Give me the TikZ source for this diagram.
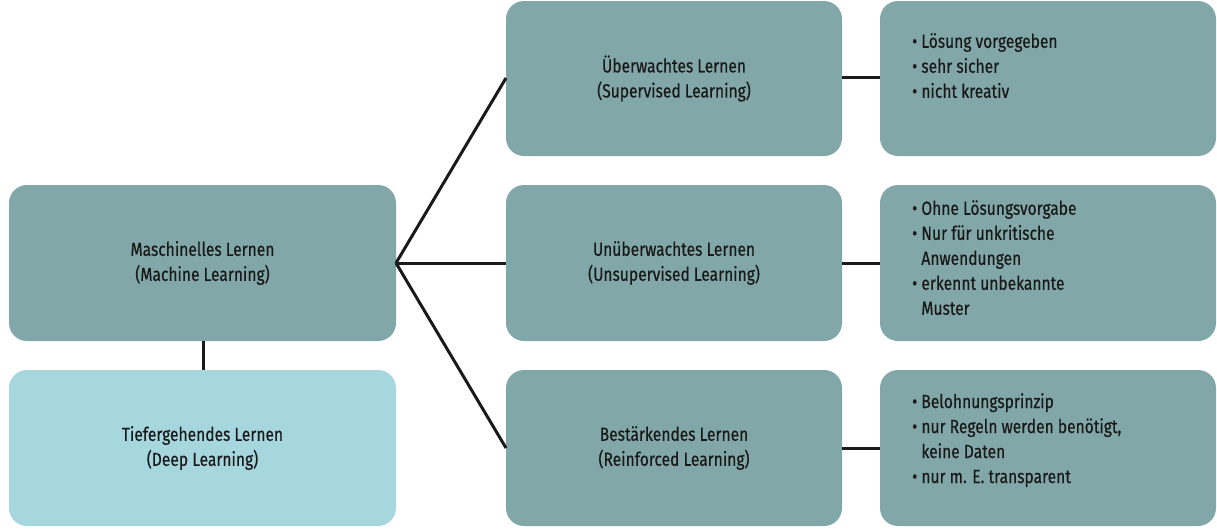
\documentclass[tikz,border=0pt]{standalone}
\usepackage{fontspec}
\setmainfont[FakeStretch=0.82]{Fira Sans}
\definecolor{boxc}{HTML}{82A7A8}
\definecolor{deepc}{HTML}{A6D7DF}
\definecolor{linec}{HTML}{1A1A1A}
\begin{document}
\begin{tikzpicture}[x=1pt,y=-1pt,
  bx/.style={fill=boxc,rounded corners=18pt,inner sep=0pt,font=\fontsize{19}{25}\selectfont\addfontfeature{FakeBold=0.4},text=black!90},
  ln/.style={draw=linec,line width=3pt}]
\useasboundingbox (0,0) rectangle (1217,528);
\path[bx] (9,185) rectangle (396,341) node[pos=.5,align=center] (ml) {Maschinelles Lernen\\(Machine Learning)};
\path[bx,fill=deepc] (9,370) rectangle (396,526) node[pos=.5,align=center] (dl) {Tiefergehendes Lernen\\(Deep Learning)};
\path[bx] (506,1) rectangle (842,156) node[pos=.5,align=center] (sup) {Überwachtes Lernen\\(Supervised Learning)};
\path[bx] (506,185) rectangle (842,341) node[pos=.5,align=center] (uns) {Unüberwachtes Lernen\\(Unsupervised Learning)};
\path[bx] (506,370) rectangle (842,526) node[pos=.5,align=center] (rei) {Bestärkendes Lernen\\(Reinforced Learning)};
\path[bx] (880,1) rectangle (1216,156);
\node[bx,fill=none,align=left,anchor=north west] (t1) at (912,33) {• Lösung vorgegeben\\• sehr sicher\\• nicht kreativ};
\path[bx] (880,185) rectangle (1216,341);
\node[bx,fill=none,align=left,anchor=north west] (t2) at (912,200) {• Ohne Lösungsvorgabe\\• Nur für unkritische\\\phantom{• }Anwendungen\\• erkennt unbekannte\\\phantom{• }Muster};
\path[bx] (880,370) rectangle (1216,526);
\node[bx,fill=none,align=left,anchor=north west] (t3) at (912,393) {• Belohnungsprinzip\\• nur Regeln werden benötigt,\\\phantom{• }keine Daten\\• nur m. E. transparent};
\coordinate (mlr) at (396,263);
\coordinate (supl) at (506,78);
\coordinate (unsl) at (506,263);
\coordinate (reil) at (506,448);
\draw[ln] (mlr) -- (supl);
\draw[ln] (mlr) -- (unsl);
\draw[ln] (mlr) -- (reil);
\coordinate (a1) at (842,77); \coordinate (b1) at (880,77);
\coordinate (a2) at (842,263); \coordinate (b2) at (880,263);
\coordinate (a3) at (842,448); \coordinate (b3) at (880,448);
\draw[ln] (a1) -- (b1); \draw[ln] (a2) -- (b2); \draw[ln] (a3) -- (b3);
\coordinate (m1) at (203,341); \coordinate (m2) at (203,370);
\draw[ln] (m1) -- (m2);
\end{tikzpicture}
\end{document}
